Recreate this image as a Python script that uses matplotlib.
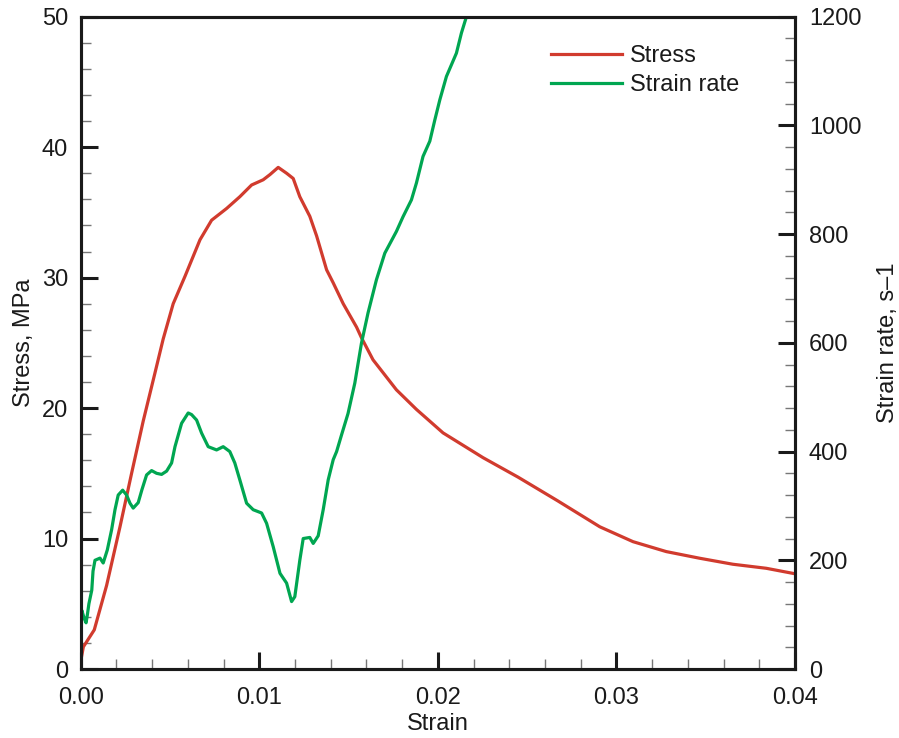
import matplotlib
matplotlib.use("Agg")
import matplotlib.pyplot as plt
from matplotlib.ticker import MultipleLocator, FormatStrFormatter
from matplotlib.lines import Line2D

plt.rcParams['font.family'] = ['Liberation Sans', 'DejaVu Sans']

# Stress history
stress_strain = [0.0, 0.00015, 0.00076, 0.00145, 0.0022, 0.00285, 0.0035, 0.00416,
                 0.00462, 0.00518, 0.00584, 0.00668, 0.00733, 0.00817, 0.00891,
                 0.00957, 0.01022, 0.0106, 0.01106, 0.01153, 0.0119, 0.01227,
                 0.01283, 0.01321, 0.01377, 0.01414, 0.0147, 0.01545, 0.01572,
                 0.01637, 0.01768, 0.0188, 0.02029, 0.02253, 0.0245, 0.0267,
                 0.02907, 0.03093, 0.03279, 0.03466, 0.03652, 0.03839, 0.04]
stress_mpa = [0.6, 1.7, 3.0, 6.4, 10.9, 15.0, 19.0, 22.7,
              25.3, 28.0, 30.1, 32.9, 34.4, 35.3, 36.2,
              37.1, 37.5, 37.9, 38.45, 38.0, 37.6, 36.2,
              34.7, 33.2, 30.6, 29.6, 28.0, 26.2, 25.4,
              23.7, 21.4, 19.9, 18.1, 16.2, 14.7, 12.9,
              10.9, 9.76, 9.0, 8.49, 8.03, 7.72, 7.3]

# Strain-rate history
rate_strain = [0.0, 0.00003, 0.00006, 0.00018, 0.0003, 0.00037, 0.00046, 0.00062,
               0.00069, 0.0008, 0.00108, 0.00126, 0.00149, 0.00173, 0.00192,
               0.0021, 0.00235, 0.00257, 0.00276, 0.00294, 0.00322, 0.00343,
               0.00369, 0.00397, 0.00425, 0.00453, 0.00481, 0.00509, 0.00528,
               0.00565, 0.00602, 0.00621, 0.00649, 0.00677, 0.00714, 0.00761,
               0.00798, 0.00835, 0.00863, 0.00891, 0.00929, 0.00966, 0.01013,
               0.01041, 0.01078, 0.01116, 0.01153, 0.01181, 0.01199, 0.01227,
               0.01246, 0.01283, 0.01302, 0.0133, 0.01358, 0.01386, 0.01414,
               0.01433, 0.01461, 0.01497, 0.01535, 0.01572, 0.01609, 0.01656,
               0.01703, 0.01768, 0.01805, 0.01852, 0.0188, 0.01917, 0.01955,
               0.01983, 0.02011, 0.02048, 0.02104, 0.02132, 0.0216]
rate_per_s = [16, 70, 108, 95, 85, 99, 120, 145,
              180, 200, 204, 195, 219, 256, 293,
              320, 329, 320, 305, 296, 306, 330,
              357, 365, 360, 358, 364, 379, 409,
              452, 471, 468, 458, 434, 409, 403,
              409, 400, 379, 348, 305, 293, 287,
              268, 225, 176, 158, 124, 133, 200,
              240, 242, 231, 245, 293, 348, 385,
              400, 431, 470, 526, 599, 655, 716,
              765, 805, 832, 863, 894, 943, 971,
              1010, 1047, 1090, 1133, 1170, 1200]

x_ticks = [0.00, 0.01, 0.02, 0.03, 0.04]
stress_ticks = [0, 10, 20, 30, 40, 50]
rate_ticks = [0, 200, 400, 600, 800, 1000, 1200]

RED = '#d13b2e'
GREEN = '#00a651'
INK = '#1a1a1a'
FS = 17

fig = plt.figure(figsize=(8.99, 7.38), dpi=100)
ax = fig.add_axes([80.7 / 899, 1 - 669 / 738, (795 - 80.7) / 899, (669 - 16.7) / 738])
ax2 = ax.twinx()

ax.plot(stress_strain, stress_mpa, color=RED, lw=2.3, solid_joinstyle='round')
ax2.plot(rate_strain, rate_per_s, color=GREEN, lw=2.3, solid_joinstyle='round')

ax.set_xlim(0, 0.04)
ax.set_ylim(0, 50)
ax2.set_ylim(0, 1200)

ax.set_xticks(x_ticks)
ax.set_yticks(stress_ticks)
ax2.set_yticks(rate_ticks)
ax.xaxis.set_major_formatter(FormatStrFormatter('%.2f'))
ax.xaxis.set_minor_locator(MultipleLocator(0.002))
ax.yaxis.set_minor_locator(MultipleLocator(2))
ax2.yaxis.set_minor_locator(MultipleLocator(40))

for a in (ax, ax2):
    for s in a.spines.values():
        s.set_linewidth(2.2)
        s.set_color(INK)
    a.tick_params(which='major', direction='in', length=12, width=2.2,
                  color=INK, labelsize=FS, labelcolor=INK)
    a.tick_params(which='minor', direction='in', length=7, width=1.0,
                  color='#777777')

ax.tick_params(axis='x', which='both', top=False, pad=13)
ax.tick_params(axis='y', which='both', left=True, right=False, pad=9)
ax2.tick_params(axis='y', which='both', right=True, left=False, pad=10)

ax.set_xlabel('Strain', fontsize=FS, color=INK, labelpad=3)
ax.set_ylabel('Stress, MPa', fontsize=FS, color=INK, labelpad=5)
ax2.set_ylabel('Strain rate, s\u20131', fontsize=FS, color=INK, labelpad=11)

handles = [Line2D([], [], color=RED, lw=2.3), Line2D([], [], color=GREEN, lw=2.3)]
fig.legend(handles, ['Stress', 'Strain rate'], loc='upper left',
           bbox_to_anchor=(551 / 899, 1 - 45 / 738), frameon=False,
           fontsize=FS, handlelength=3.0, handletextpad=0.35,
           labelspacing=0.3, borderpad=0, borderaxespad=0,
           labelcolor=INK)

fig.savefig('out.png', dpi=100)
